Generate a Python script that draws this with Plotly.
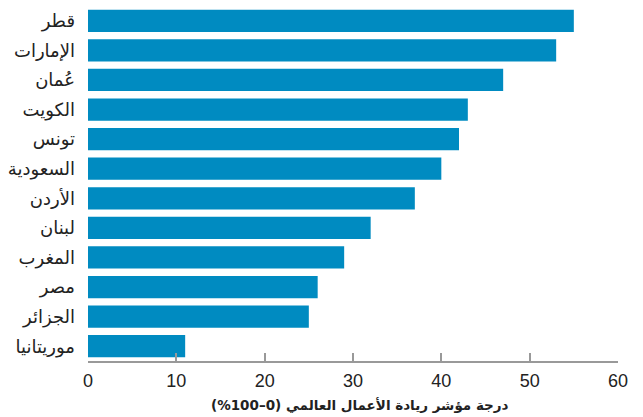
import plotly.graph_objects as go

countries = ["قطر", "الإمارات", "عُمان", "الكويت", "تونس", "السعودية",
             "الأردن", "لبنان", "المغرب", "مصر", "الجزائر", "موريتانيا"]
scores = [55, 53, 47, 43, 42, 40, 37, 32, 29, 26, 25, 11]
x_ticks = [0, 10, 20, 30, 40, 50, 60]
x_title = "درجة مؤشر ريادة الأعمال العالمي (0–100%)"

fig = go.Figure(go.Bar(
    x=scores, y=countries, orientation="h",
    marker=dict(color="#008BC1", line=dict(width=0)),
    hoverinfo="skip",
))

fig.update_layout(
    width=643, height=417,
    margin=dict(l=88, r=25, t=6, b=56),
    paper_bgcolor="white", plot_bgcolor="white",
    bargap=0.25,
    showlegend=False,
    font=dict(family="Liberation Sans, DejaVu Sans, sans-serif", color="#222"),
    annotations=[dict(
        text="<b>" + x_title + "</b>", xref="paper", yref="paper",
        x=0.513, y=-0.124, xanchor="center", yanchor="middle", showarrow=False,
        font=dict(size=13.5, family="DejaVu Sans, sans-serif", color="#222"),
    )],
)
fig.update_xaxes(
    range=[0, 60], tickvals=x_ticks, ticktext=[str(v) for v in x_ticks],
    showgrid=False, zeroline=False,
    showline=True, linecolor="#999", linewidth=1.5,
    ticks="inside", ticklen=8, tickcolor="#999", tickwidth=1.5,
    ticklabelstandoff=3,
    tickfont=dict(size=18, family="Liberation Sans, sans-serif", color="#222"),
    automargin=False,
    fixedrange=True,
)
fig.update_yaxes(
    categoryorder="array", categoryarray=countries[::-1],
    showgrid=False, zeroline=False, showline=False,
    ticks="", ticklabelstandoff=12,
    tickfont=dict(size=18, family="DejaVu Sans, sans-serif", color="#222"),
    automargin=False, fixedrange=True,
)

fig.write_html("out.html", config={"displayModeBar": False},
               post_script="document.body.style.margin='0';")
